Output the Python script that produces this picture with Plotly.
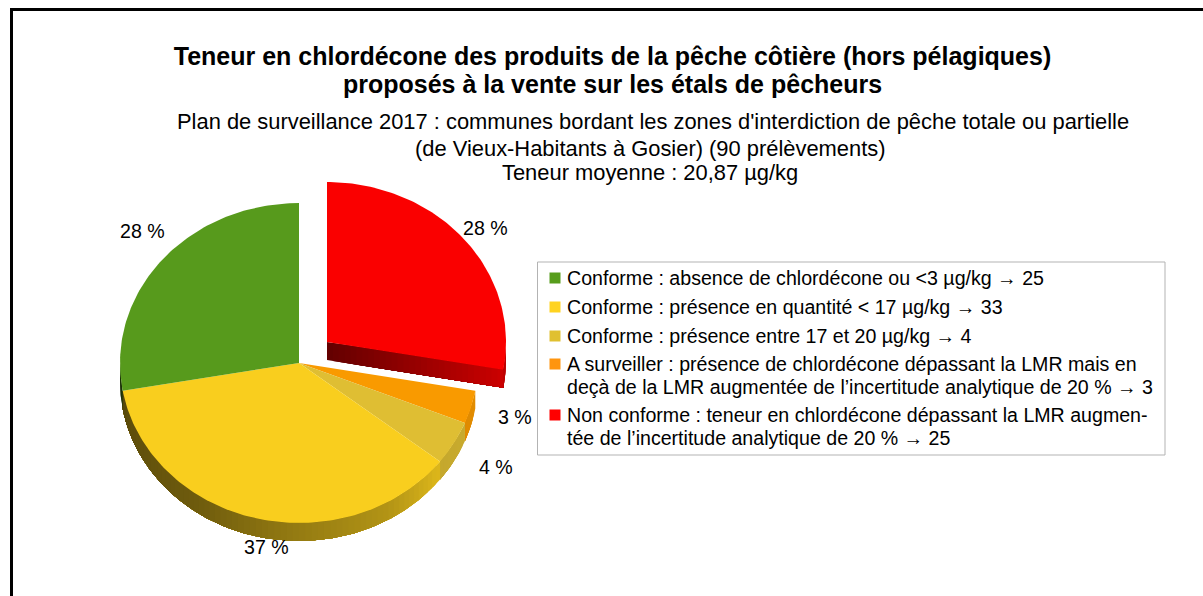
import math
import plotly.graph_objects as go

# ---------- data ----------
CATEGORIES = [
    ["Non conforme : teneur en chlordécone dépassant la LMR augmen-", "tée de l’incertitude analytique de 20 % → 25"],
    ["A surveiller : présence de chlordécone dépassant la LMR mais en", "deçà de la LMR augmentée de l’incertitude analytique de 20 % → 3"],
    ["Conforme : présence entre 17 et 20 µg/kg → 4"],
    ["Conforme : présence en quantité < 17 µg/kg → 33"],
    ["Conforme : absence de chlordécone ou <3 µg/kg → 25"],
]
VALUES = [25, 3, 4, 33, 25]
PERCENT_LABELS = ["28 %", "3 %", "4 %", "37 %", "28 %"]
TOP_COLORS = ["#FA0000", "#F99A00", "#DFBE33", "#F9CE1E", "#579A1C"]
SWATCH_COLORS = ["#FF0000", "#FF950E", "#E0C030", "#FFD320", "#579D1C"]

TITLE_LINES = [
    "<b>Teneur en chlordécone des produits de la pêche côtière (hors pélagiques)</b>",
    "<b>proposés à la vente sur les étals de pêcheurs</b>",
]
SUBTITLE_LINES = [
    "Plan de surveillance 2017 : communes bordant les zones d'interdiction de pêche totale ou partielle",
    "(de Vieux-Habitants à Gosier) (90 prélèvements)",
    "Teneur moyenne : 20,87 µg/kg",
]

# ---------- layout constants (figure pixels) ----------
W, H = 1203, 596
CX, CY, RX, RY, DEPTH = 299, 363, 179, 160, 18
EXPLODE = (28, -21)
LABEL_XY = [(485, 228), (515, 417), (496, 467), (266, 547), (142, 231)]
SUB_XY = [(653, 121), (650, 148), (650, 172)]
LEGEND_ROW_Y = [415, 364, 336, 307, 278]
LEGEND_LINE_PITCH = 23
LEGEND_SWATCH_X, LEGEND_TEXT_X = 555, 565
FONT = "Liberation Sans"


def pt(a, dx=0, dy=0):
    r = math.radians(a)
    return CX + dx + RX * math.sin(r), CY + dy - RY * math.cos(r)


def shade(hexcol, f):
    c = [int(hexcol[i:i + 2], 16) for i in (1, 3, 5)]
    return "rgb(%d,%d,%d)" % tuple(round(v * f) for v in c)


def rim_factor(a):
    stops = [(90, 0.92), (130, 0.88), (150, 0.72), (180, 0.6), (215, 0.44), (250, 0.38), (270, 0.3)]
    for (a0, f0), (a1, f1) in zip(stops, stops[1:]):
        if a <= a1:
            return f0 + (f1 - f0) * (a - a0) / (a1 - a0)
    return stops[-1][1]


fig = go.Figure()


def poly(pts, color):
    fig.add_trace(go.Scatter(
        x=[p[0] for p in pts] + [pts[0][0]], y=[p[1] for p in pts] + [pts[0][1]],
        mode="lines", fill="toself", fillcolor=color, line=dict(color=color, width=0),
        hoverinfo="skip", showlegend=False))


total = sum(VALUES)
start = 0
sectors = []
for i, v in enumerate(VALUES):
    end = start + v / total * 360
    sectors.append((start, end))
    start = end

# side walls: each strip overlaps the whole remaining arc so no seams show
for i, (a0, a1) in enumerate(sectors):
    dx, dy = EXPLODE if i == 0 else (0, 0)
    lo, hi = max(a0, 90), min(a1, 270)
    if lo >= hi:
        continue
    steps = max(1, int((hi - lo) / 2))
    for s in range(steps):
        b0 = lo + (hi - lo) * s / steps
        f = rim_factor(b0 + (hi - lo) / steps / 2)
        if i == 0:
            f = 0.75
        n = max(1, int(hi - b0))
        upper = [pt(b0 + (hi - b0) * k / n, dx, dy) for k in range(n + 1)]
        lower = [pt(b0 + (hi - b0) * k / n, dx, dy + DEPTH) for k in range(n, -1, -1)]
        poly(upper + lower, shade(TOP_COLORS[i], f))

# cut face of the pulled-out slice, visible below its lower edge
ex, ey = CX + EXPLODE[0], CY + EXPLODE[1]
px, py = pt(sectors[0][1], *EXPLODE)
N = 30
for s in range(N):
    t0 = s / N
    a = (ex + (px - ex) * t0, ey + (py - ey) * t0)
    poly([a, (px, py), (px, py + DEPTH), (a[0], a[1] + DEPTH)],
         shade(TOP_COLORS[0], 0.4 + 0.42 * t0))

# top surfaces
for i, (a0, a1) in enumerate(sectors):
    dx, dy = EXPLODE if i == 0 else (0, 0)
    n = max(4, int(a1 - a0))
    arc = [pt(a0 + (a1 - a0) * k / n, dx, dy) for k in range(n + 1)]
    poly([(CX + dx, CY + dy)] + arc, TOP_COLORS[i])

# percent labels
for txt, (x, y) in zip(PERCENT_LABELS, LABEL_XY):
    fig.add_annotation(x=x, y=y, xref="x", yref="y", text=txt, showarrow=False,
                       font=dict(size=19.6, color="#000", family=FONT))

# legend: swatches and text lines
fig.add_trace(go.Scatter(
    x=[LEGEND_SWATCH_X] * len(VALUES), y=LEGEND_ROW_Y, mode="markers",
    marker=dict(symbol="square", size=11, color=SWATCH_COLORS, line=dict(width=0)),
    hoverinfo="skip", showlegend=False))
for lines, y0 in zip(CATEGORIES, LEGEND_ROW_Y):
    for j, line in enumerate(lines):
        fig.add_annotation(x=LEGEND_TEXT_X, y=y0 + j * LEGEND_LINE_PITCH, xref="x", yref="y",
                           text=line, showarrow=False, xanchor="left",
                           font=dict(size=19.6, color="#000", family=FONT))

for txt, (x, y) in zip(SUBTITLE_LINES, SUB_XY):
    fig.add_annotation(x=x, y=y, xref="x", yref="y", text=txt, showarrow=False,
                       font=dict(size=21.9, color="#000", family=FONT))

fig.add_annotation(x=612.5, y=84, xref="x", yref="y", text=TITLE_LINES[1], showarrow=False,
                   font=dict(size=25, color="#000", family=FONT))

fig.update_layout(
    width=W, height=H, margin=dict(l=0, r=0, t=0, b=0, pad=0),
    paper_bgcolor="white", plot_bgcolor="white",
    font=dict(family=FONT, color="#000"),
    title=dict(text=TITLE_LINES[0], x=612.5 / W, xanchor="center", xref="paper",
               y=1 - 56 / H, yanchor="middle", yref="container",
               font=dict(size=25, family=FONT, color="#000")),
    xaxis=dict(range=[0, W], visible=False, fixedrange=True),
    yaxis=dict(range=[H, 0], visible=False, fixedrange=True),
    showlegend=False,
    shapes=[
        dict(type="rect", xref="x", yref="y", x0=537.5, x1=1165, y0=262, y1=455,
             line=dict(color="#b3b3b3", width=1), layer="below"),
        dict(type="line", xref="x", yref="y", x0=11.5, x1=11.5, y0=9.5, y1=H,
             line=dict(color="#000", width=3)),
        dict(type="line", xref="x", yref="y", x0=10, x1=W, y0=9.5, y1=9.5,
             line=dict(color="#000", width=3)),
    ],
)
fig.write_html("out.html", config={"displayModeBar": False},
               post_script="document.body.style.margin='0';")
